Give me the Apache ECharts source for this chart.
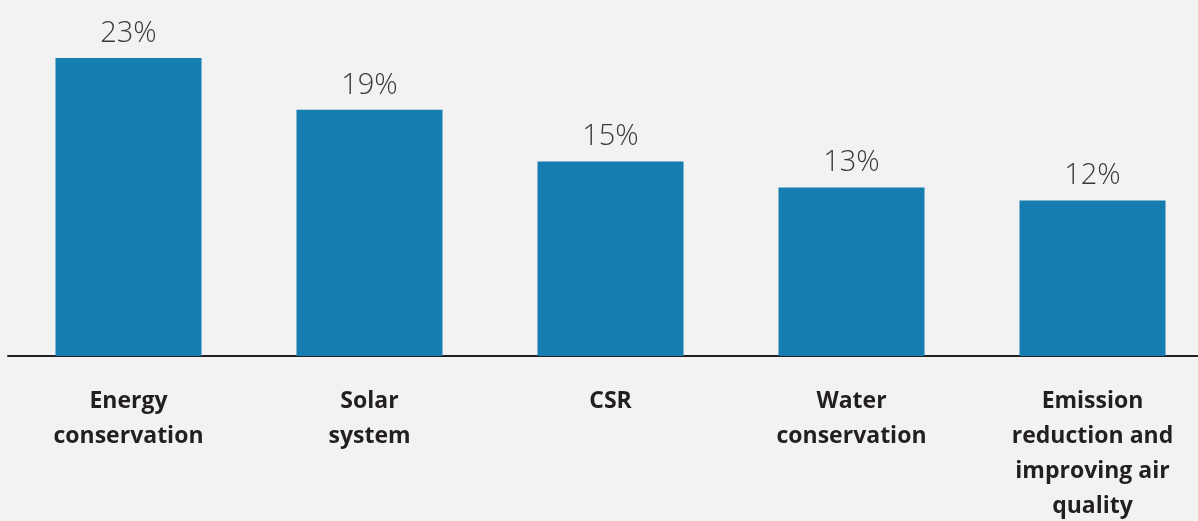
<!DOCTYPE html>
<html style="height: 100%;">
<head>
<meta charset="utf-8">
<title>Topics</title>
<script src="https://cdn.jsdelivr.net/npm/echarts@6/dist/echarts.min.js"></script>
</head>
<body style="height: 100%; margin: 0; background: #f2f2f2;">
<div id="container" style="width: 1198px; height: 521px;"></div>
<script type="text/javascript">
var categories = ['Energy\nconservation', 'Solar\nsystem', 'CSR', 'Water\nconservation', 'Emission\nreduction and\nimproving air\nquality'];
var values = [23, 19, 15, 13, 12];

var myChart = echarts.init(document.getElementById('container'));
var option = {
    backgroundColor: '#f2f2f2',
    animation: false,
    grid: { left: 8, width: 1205, top: 32, bottom: 165, outerBoundsMode: 'none', containLabel: false },
    xAxis: {
        type: 'category',
        data: categories,
        axisLine: { lineStyle: { color: '#231f20', width: 2 } },
        axisTick: { show: false },
        axisLabel: {
            interval: 0,
            margin: 28,
            color: '#231f20',
            fontFamily: 'Open Sans',
            fontWeight: 'bold',
            fontSize: 23,
            lineHeight: 35
        }
    },
    yAxis: {
        type: 'value',
        min: 0,
        max: 25,
        show: false
    },
    series: [{
        type: 'bar',
        data: values,
        barWidth: 146,
        itemStyle: { color: '#157db0' },
        label: {
            show: true,
            position: 'top',
            distance: 10,
            formatter: '{c}%',
            color: '#3a3a3a',
            fontFamily: 'Open Sans',
            fontWeight: 300,
            fontSize: 29
        }
    }]
};
myChart.setOption(option);
</script>
</body>
</html>
